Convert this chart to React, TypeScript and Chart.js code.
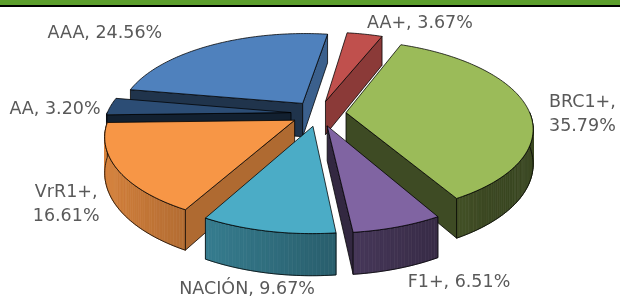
import React, { useEffect, useRef } from "react";
import { Chart, registerables } from "chart.js";

Chart.register(...registerables);

// ---- data ----
const CATEGORIES = ["AAA", "AA+", "BRC1+", "F1+", "NACIÓN", "VrR1+", "AA"];
const SHARES = [24.56, 3.67, 35.79, 6.51, 9.67, 16.61, 3.2];
const COLORS = ["#4f81bd", "#c0504d", "#9bbb59", "#8064a2", "#4bacc6", "#f79646", "#2c4d75"];
const WRAPPED = ["BRC1+", "VrR1+"];

// ---- 3D look (layout constants) ----
const SQUASH_Y = 0.46; // vertical scale of the pie plane
const DEPTH = 0.185; // slab thickness, in radii
const PERSP = 0.167; // perspective strength
const EXPLODE = 0.15; // explosion, in radii
const LABEL_RADIUS = 1.4;
const LABEL_NUDGE: [number, number][] = [
  [-87, 5],
  [47, 8],
  [11, 2],
  [39, 28],
  [-6, 30],
  [-2, 13],
  [-11, 9],
];
const FONT_PX = 17.5;
const LINE_GAP = 24;

function rgb(hex: string): [number, number, number] {
  const h = hex.replace("#", "");
  return [parseInt(h.slice(0, 2), 16), parseInt(h.slice(2, 4), 16), parseInt(h.slice(4, 6), 16)];
}
function shade(hex: string, k: number): string {
  const [r, g, b] = rgb(hex);
  return `rgb(${Math.round(r * k)},${Math.round(g * k)},${Math.round(b * k)})`;
}

const pie3d = {
  id: "pie3d",
  beforeDatasetsDraw(chart: any) {
    const ctx: CanvasRenderingContext2D = chart.ctx;
    const arcs = chart.getDatasetMeta(0).data as any[];
    const ds = chart.data.datasets[0];
    const slices = arcs.map((a: any, i: number) => {
      const s = a.startAngle;
      const e = a.endAngle;
      const m = (s + e) / 2;
      return {
        i,
        s,
        e,
        m,
        cx: a.x,
        cy: a.y,
        R: a.outerRadius,
        color: ds.backgroundColor[i] as string,
        ox: EXPLODE * Math.cos(m),
        oy: EXPLODE * Math.sin(m),
      };
    });

    const proj = (sl: any, px: number, py: number, z: number): [number, number] => {
      const f = 1 / (1 - PERSP * py);
      return [sl.cx + px * sl.R * f, sl.cy + (py * SQUASH_Y + z * DEPTH) * sl.R * f];
    };

    const outline = "rgba(0,0,0,0.85)";
    ctx.save();
    ctx.lineJoin = "round";
    ctx.lineWidth = 0.9;

    const poly = (pts: [number, number][], fill: string, stroke: boolean) => {
      ctx.beginPath();
      ctx.moveTo(pts[0][0], pts[0][1]);
      for (let k = 1; k < pts.length; k++) ctx.lineTo(pts[k][0], pts[k][1]);
      ctx.closePath();
      ctx.fillStyle = fill;
      ctx.fill();
      if (stroke) {
        ctx.strokeStyle = outline;
        ctx.stroke();
      } else {
        ctx.strokeStyle = fill;
        ctx.lineWidth = 0.7;
        ctx.stroke();
        ctx.lineWidth = 0.9;
      }
    };

    const order = [...slices].sort((a, b) => Math.sin(a.m) - Math.sin(b.m));
    for (const sl of order) {
      const pt = (ang: number, z: number) => proj(sl, sl.ox + Math.cos(ang), sl.oy + Math.sin(ang), z);
      const apex = (z: number) => proj(sl, sl.ox, sl.oy, z);

      // radial side at start
      if (Math.cos(sl.s) < 0) {
        const nx = Math.sin(sl.s);
        const k = 0.4 + 0.35 * Math.max(0, nx);
        poly([apex(0), pt(sl.s, 0), pt(sl.s, 1), apex(1)], shade(sl.color, k), true);
      }
      // radial side at end
      if (Math.cos(sl.e) > 0) {
        const nx = -Math.sin(sl.e);
        const k = 0.4 + 0.35 * Math.max(0, nx);
        poly([apex(0), pt(sl.e, 0), pt(sl.e, 1), apex(1)], shade(sl.color, k), true);
      }
      // curved outer band (front half only)
      for (let w = -1; w <= 2; w++) {
        const lo = Math.max(sl.s, w * 2 * Math.PI);
        const hi = Math.min(sl.e, w * 2 * Math.PI + Math.PI);
        if (hi - lo <= 1e-4) continue;
        const n = Math.max(2, Math.ceil((hi - lo) / (Math.PI / 180)));
        const tops: [number, number][] = [];
        const bots: [number, number][] = [];
        for (let j = 0; j <= n; j++) {
          const a = lo + ((hi - lo) * j) / n;
          tops.push(pt(a, 0));
          bots.push(pt(a, 1));
        }
        for (let j = 0; j < n; j++) {
          const a = lo + ((hi - lo) * (j + 0.5)) / n;
          const k = Math.min(0.9, Math.max(0.38, 0.58 - 0.3 * Math.cos(a)));
          poly([tops[j], tops[j + 1], bots[j + 1], bots[j]], shade(sl.color, k), false);
        }
        ctx.beginPath();
        ctx.moveTo(tops[0][0], tops[0][1]);
        for (const p of tops) ctx.lineTo(p[0], p[1]);
        for (let j = bots.length - 1; j >= 0; j--) ctx.lineTo(bots[j][0], bots[j][1]);
        ctx.closePath();
        ctx.strokeStyle = outline;
        ctx.stroke();
      }
      // top face
      const top: [number, number][] = [apex(0)];
      const n = Math.max(2, Math.ceil((sl.e - sl.s) / (Math.PI / 180)));
      for (let j = 0; j <= n; j++) top.push(pt(sl.s + ((sl.e - sl.s) * j) / n, 0));
      poly(top, sl.color, true);
    }

    // data labels
    ctx.fillStyle = "#595959";
    ctx.font = `${FONT_PX}px 'DejaVu Sans'`;
    ctx.textAlign = "center";
    ctx.textBaseline = "alphabetic";
    for (const sl of slices) {
      const cat = CATEGORIES[sl.i];
      const val = SHARES[sl.i].toFixed(2) + "%";
      const lines = WRAPPED.includes(cat) ? [cat + ",", val] : [`${cat}, ${val}`];
      const [ax, ay] = proj(sl, LABEL_RADIUS * Math.cos(sl.m), LABEL_RADIUS * Math.sin(sl.m), 0);
      const [dx, dy] = LABEL_NUDGE[sl.i];
      lines.forEach((t, li) => ctx.fillText(t, ax + dx, ay + dy + li * LINE_GAP));
    }
    ctx.restore();
    return false;
  },
};

export default function App() {
  const ref = useRef<HTMLCanvasElement | null>(null);
  useEffect(() => {
    document.body.style.margin = "0";
    if (!ref.current) return;
    const chart = new Chart(ref.current, {
      type: "pie",
      data: {
        labels: CATEGORIES,
        datasets: [{ data: SHARES, backgroundColor: COLORS, borderWidth: 0 }],
      },
      options: {
        responsive: false,
        animation: false,
        events: [],
        rotation: 280,
        radius: 184,
        layout: { padding: { left: 17, right: 0, top: 0, bottom: 70 } },
        plugins: { legend: { display: false }, tooltip: { enabled: false } },
      } as any,
      plugins: [pie3d as any],
    });
    return () => chart.destroy();
  }, []);
  return (
    <div style={{ position: "relative", width: 620, height: 297, background: "#fff", overflow: "hidden" }}>
      <div style={{ position: "absolute", left: 0, top: 0, width: 620, height: 5, background: "#5c9e2c" }} />
      <div style={{ position: "absolute", left: 0, top: 5, width: 620, height: 2, background: "#000" }} />
      <canvas ref={ref} width={620} height={297} style={{ display: "block" }} />
    </div>
  );
}
